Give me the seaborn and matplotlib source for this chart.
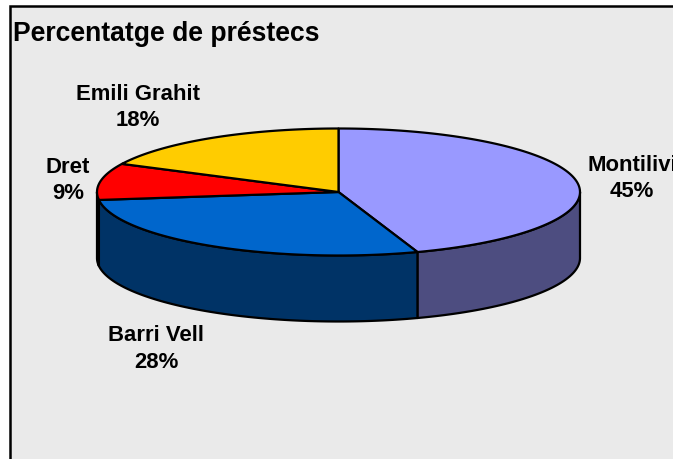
import matplotlib
matplotlib.use('Agg')
import matplotlib.pyplot as plt
import numpy as np
import seaborn as sns

# data
title = 'Percentatge de préstecs'
branches = ['Montilivi', 'Barri Vell', 'Dret', 'Emili Grahit']
percent = [44.7, 28.3, 9.3, 17.7]
top_colors = ['#9999FF', '#0066CC', '#FF0000', '#FFCC00']
side_colors = ['#4D4D80', '#003366', '#800000', '#806600']

sns.set_style('white')
plt.rcParams['font.family'] = ['Liberation Sans', 'DejaVu Sans']

# pie geometry in pixels of the picture
cx, cy = 338.5, 192
rx, ry = 241.5, 63.5
depth = 66
label_pos = [(632, 178.5), (156, 349), (68, 180.5), (138, 107.5)]


def rim(a0, a1):
    t = np.radians(np.linspace(a0, a1, 120))
    return cx + rx * np.cos(t), cy - ry * np.sin(t)


fig = plt.figure(figsize=(6.73, 4.59), dpi=100, facecolor='white')
ax = fig.add_axes([0, 0, 1, 1])
ax.set_xlim(0, 673)
ax.set_ylim(459, 0)
ax.axis('off')

# chart area
ax.fill([9.5, 680, 680, 9.5], [6, 6, 465, 465], facecolor='#EAEAEA',
        edgecolor='black', linewidth=1.8)

# slices run clockwise from the top
ends = 90 - np.cumsum(percent) * 3.6
starts = np.r_[90, ends[:-1]]

# side wall, only the front half of the rim shows
for a0, a1, col in zip(starts, ends, side_colors):
    a0_f, a1_f = min(a0, 0), max(a1, -180)
    if a1_f >= a0_f:
        continue
    x, y = rim(a0_f, a1_f)
    ax.fill(np.r_[x, x[::-1]], np.r_[y, y[::-1] + depth], facecolor=col,
            edgecolor='black', linewidth=1.6, joinstyle='round')

# top face
for a0, a1, col in zip(starts, ends, top_colors):
    x, y = rim(a0, a1)
    ax.fill(np.r_[cx, x], np.r_[cy, y], facecolor=col,
            edgecolor='black', linewidth=1.6, joinstyle='round')

# labels
for name, pct, (lx, ly) in zip(branches, percent, label_pos):
    ax.text(lx, ly, f'{name}\n{round(pct)}%', ha='center', va='center',
            fontsize=15.9, fontweight='bold', linespacing=1.37, color='black')

ax.text(13, 34, title, ha='left', va='center', fontsize=19.1,
        fontweight='bold', color='black')

fig.savefig('out.png', dpi=100)
